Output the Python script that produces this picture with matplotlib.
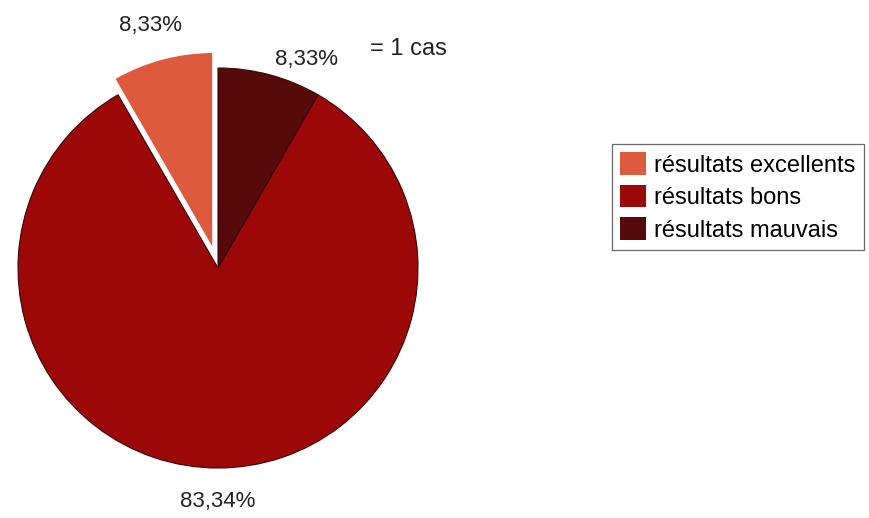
import matplotlib
matplotlib.use("Agg")
import matplotlib.pyplot as plt

# données
categories = ['résultats excellents', 'résultats bons', 'résultats mauvais']
valeurs = [8.33, 83.34, 8.33]
etiquettes = ['8,33%', '83,34%', '8,33%']
couleurs = ['#de5a3e', '#9c0808', '#560a0a']

plt.rcParams['font.family'] = ['Liberation Sans', 'DejaVu Sans']

fig = plt.figure(figsize=(8.69, 5.18), dpi=100)
ax = fig.add_axes([18 / 869, 50 / 518, 400 / 869, 400 / 518])

wedges, _ = ax.pie(valeurs, colors=couleurs, startangle=90, counterclock=True,
                   explode=[0.085, 0, 0], radius=1,
                   wedgeprops=dict(edgecolor='#3a0505', linewidth=0.8))
wedges[0].set_edgecolor('white')
wedges[0].set_linewidth(2)
ax.set_xlim(-1, 1)
ax.set_ylim(-1, 1)
ax.set_aspect('equal')
ax.axis('off')

txt = dict(ha='center', va='center', color='#222222', clip_on=False)
ax.text(-0.34, 1.21, etiquettes[0], fontsize=16, **txt)
ax.text(0.445, 1.045, etiquettes[2], fontsize=16, **txt)
ax.text(0.95, 1.095, '= 1 cas', fontsize=17, **txt)
ax.text(0.0, -1.165, etiquettes[1], fontsize=16, **txt)

leg = fig.legend(wedges, categories, loc='center', bbox_to_anchor=(738 / 869, 1 - 197 / 518),
                 fontsize=17, frameon=True, fancybox=False, edgecolor='#444444',
                 handlelength=1.1, handleheight=1.1, handletextpad=0.35,
                 labelspacing=0.35, borderpad=0.35, borderaxespad=0)
leg.get_frame().set_linewidth(0.9)
for h in leg.legend_handles:
    h.set_edgecolor('none')

fig.savefig('out.png', dpi=100)
